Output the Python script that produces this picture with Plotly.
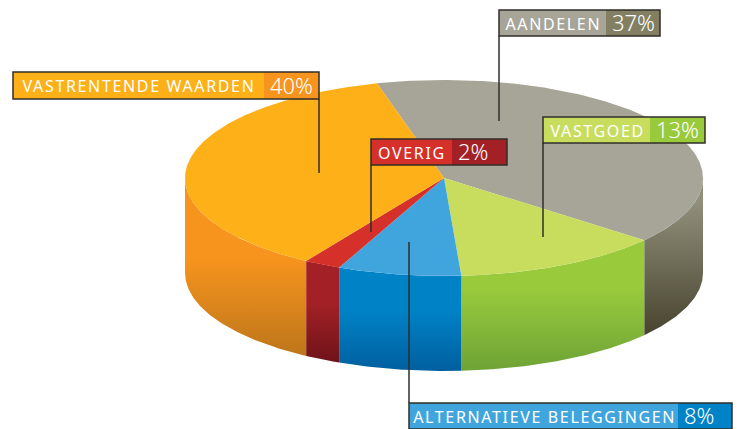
import math
import plotly.graph_objects as go

# Categories clockwise from the top of the pie, as labelled in the reference
categories = ["AANDELEN", "VASTGOED", "ALTERNATIEVE BELEGGINGEN", "OVERIG", "VASTRENTENDE WAARDEN"]
percent_labels = ["37%", "13%", "8%", "2%", "40%"]
# Slice sizes as actually drawn in the picture (%)
drawn_shares = [40.1, 13.0, 7.7, 2.3, 36.9]
start_angle = -15.0

top_colors = ["#a6a598", "#c8dd5e", "#41a5dd", "#d6302a", "#fdb018"]
wall_top = ["#918f7a", "#98ca3c", "#0082c6", "#a32126", "#f7941d"]
wall_bottom = ["#47432f", "#6ea336", "#005f9f", "#6f1319", "#bd761a"]
wall_knee = [0.85, 0.62, 0.58, 0.6, 0.55]
pct_colors = ["#827f63", "#98ca3c", "#0082c6", "#a32126", "#f7941d"]

# Label boxes: x0, split, x1, y0, y1 and the leader line x, y0, y1
boxes = [(499, 606, 660, 10, 36), (543, 650, 705, 117, 143), (409, 678, 732, 403, 429),
         (371, 452, 507, 139, 165), (13, 264, 319, 72, 99)]
leaders = [(499, 36, 121), (543, 143, 237), (409, 242, 403), (371, 165, 232), (319, 99, 173)]

CX, CY, RX, RY, DEPTH = 444, 178, 259, 98, 95
INK = "#302e28"


def rim(deg, drop=0):
    a = math.radians(deg)
    return CX + RX * math.sin(a), CY - RY * math.cos(a) + drop


def arc(a0, a1, drop=0):
    n = max(2, int(abs(a1 - a0) * 2))
    return [rim(a0 + (a1 - a0) * i / n, drop) for i in range(n + 1)]


fig = go.Figure()
edges = [start_angle]
for s in drawn_shares:
    edges.append(edges[-1] + s * 3.6)

# side walls (front half only)
for i in range(5):
    a0, a1 = max(edges[i], 90), min(edges[i + 1], 270)
    if a1 <= a0:
        continue
    pts = arc(a0, a1) + arc(a1, a0, DEPTH)
    pts.append(pts[0])
    fig.add_trace(go.Scatter(
        x=[p[0] for p in pts], y=[p[1] for p in pts], mode="lines", line=dict(width=0),
        fill="toself", hoverinfo="skip", showlegend=False,
        fillgradient=dict(type="vertical",
                          colorscale=[[0, wall_bottom[i]], [wall_knee[i], wall_top[i]], [1, wall_top[i]]]),
    ))

# top faces
for i in range(5):
    pts = [(CX, CY)] + arc(edges[i], edges[i + 1]) + [(CX, CY)]
    fig.add_trace(go.Scatter(
        x=[p[0] for p in pts], y=[p[1] for p in pts], mode="lines", line=dict(width=0),
        fill="toself", fillcolor=top_colors[i], hoverinfo="skip", showlegend=False,
    ))

# leader lines
for x, y0, y1 in leaders:
    fig.add_trace(go.Scatter(x=[x, x], y=[y0, y1], mode="lines", line=dict(color=INK, width=1.5),
                             hoverinfo="skip", showlegend=False))

shapes, annotations = [], []
for i in range(5):
    x0, xs, x1, y0, y1 = boxes[i]
    shapes.append(dict(type="rect", x0=x0, x1=xs, y0=y0, y1=y1, fillcolor=top_colors[i], line_width=0))
    shapes.append(dict(type="rect", x0=xs, x1=x1, y0=y0, y1=y1, fillcolor=pct_colors[i], line_width=0))
    shapes.append(dict(type="rect", x0=x0, x1=x1, y0=y0, y1=y1, fillcolor="rgba(0,0,0,0)",
                       line=dict(color=INK, width=1.5)))
    annotations.append(dict(x=(x0 + xs) / 2 + 0.5, y=(y0 + y1) / 2 + 0.5, text=categories[i], showarrow=False,
                            xanchor="center", yanchor="middle",
                            font=dict(family="Noto Sans", size=16, color="white")))
    annotations.append(dict(x=xs + 4, y=(y0 + y1) / 2 - 1, text=percent_labels[i], showarrow=False, xanchor="left",
                            yanchor="middle", font=dict(family="Noto Sans", size=22, color="white", weight=300)))

fig.update_layout(
    width=741, height=429, margin=dict(l=0, r=0, t=0, b=0),
    paper_bgcolor="white", plot_bgcolor="white", showlegend=False,
    shapes=shapes, annotations=annotations,
    xaxis=dict(range=[0, 741], visible=False, fixedrange=True),
    yaxis=dict(range=[429, 0], visible=False, fixedrange=True),
)
page_style = """
document.body.style.margin = '0';
document.querySelectorAll('.annotation-text').forEach(function (t) {
  if (t.textContent.indexOf('%') < 0) { t.style.letterSpacing = '1.65px'; }
});
"""
fig.write_html("out.html", config={"displayModeBar": False}, post_script=page_style)
